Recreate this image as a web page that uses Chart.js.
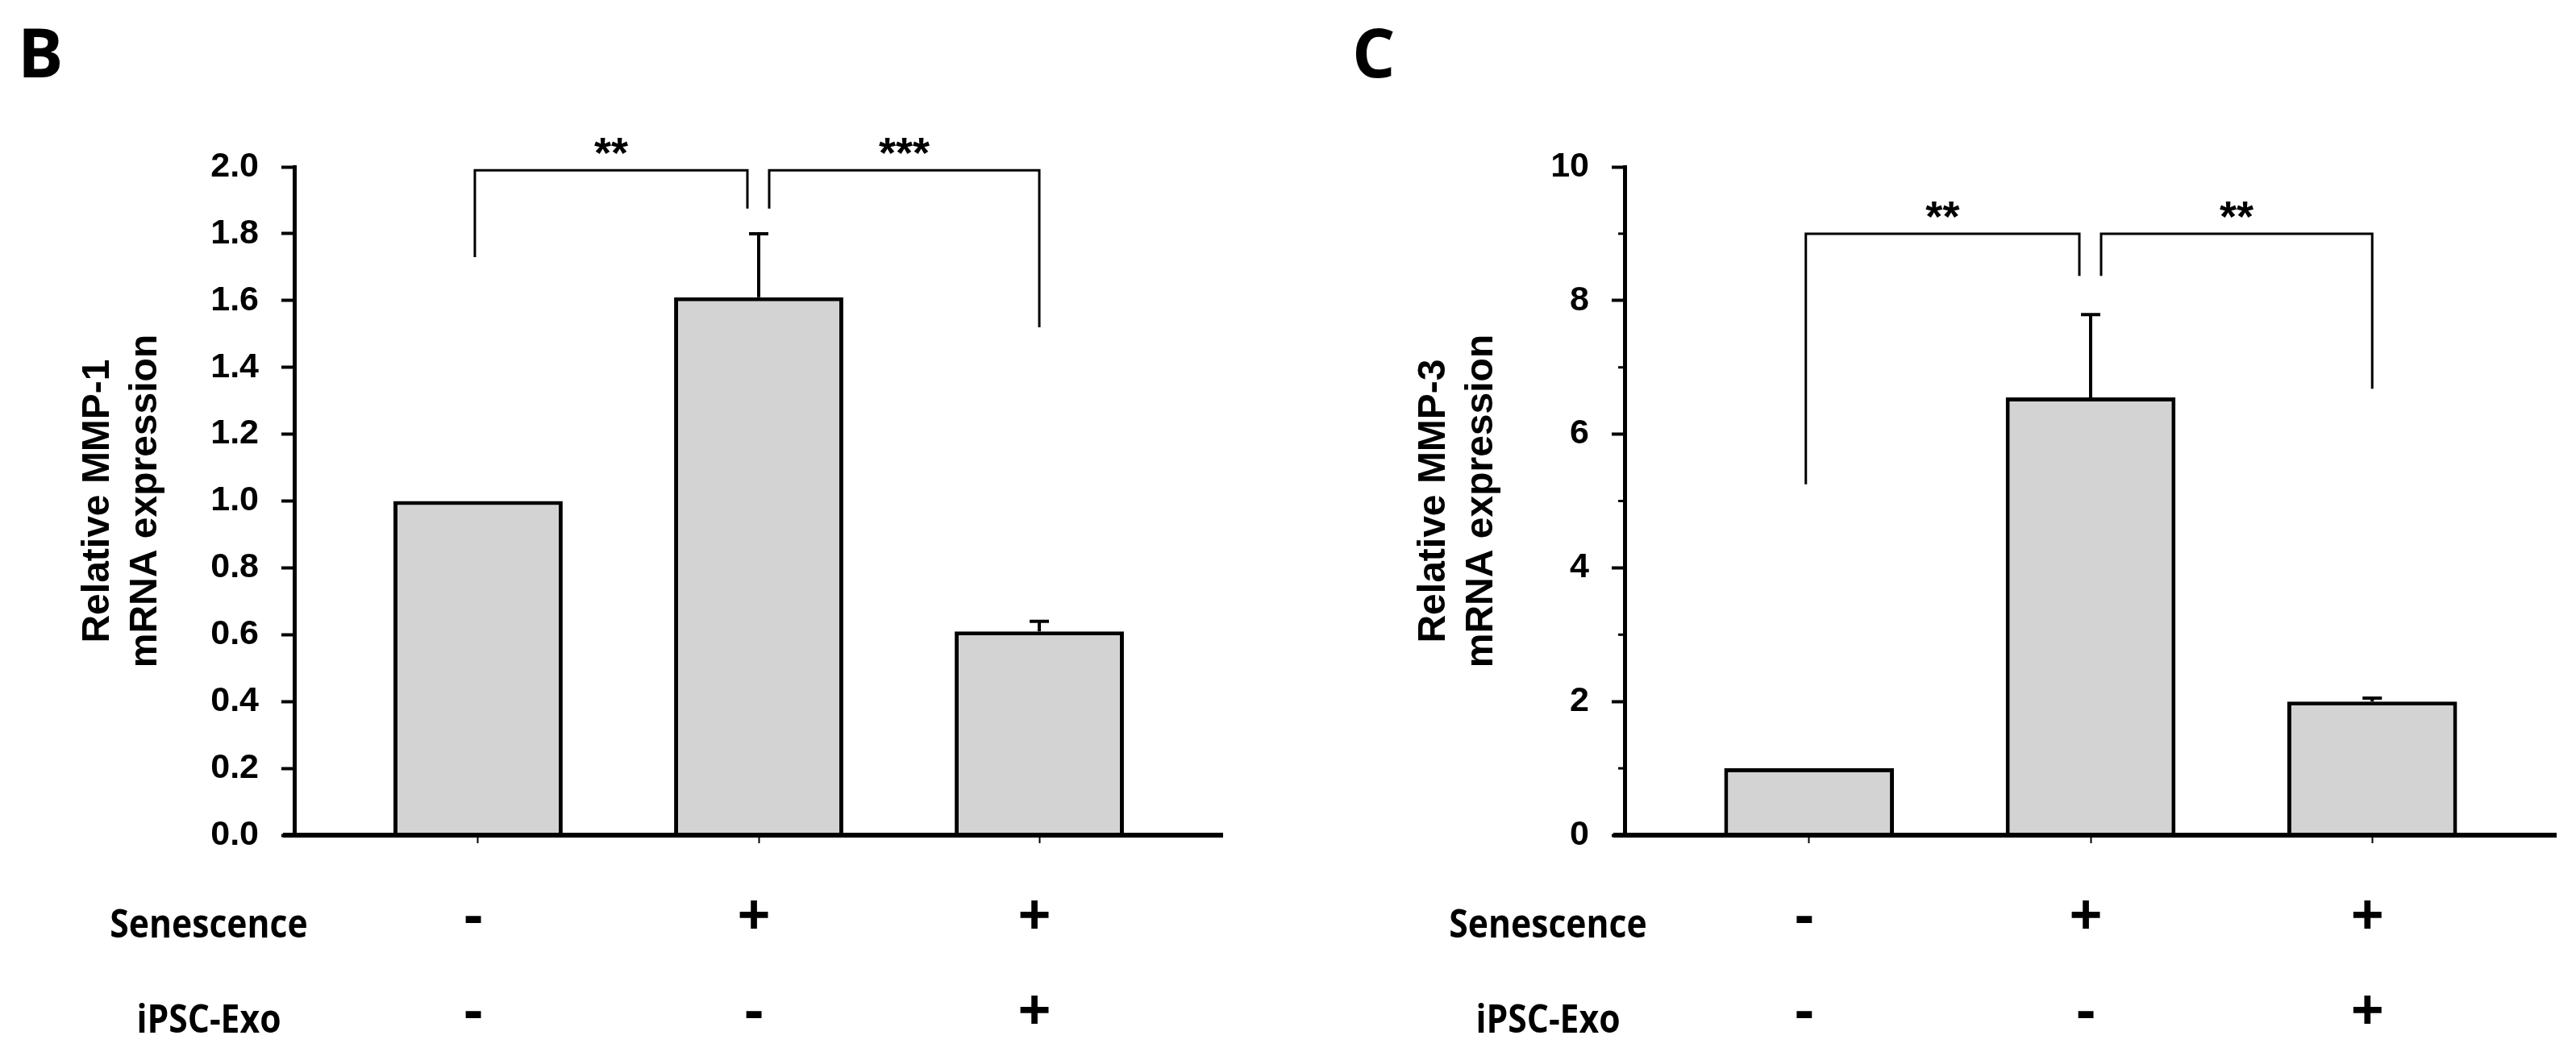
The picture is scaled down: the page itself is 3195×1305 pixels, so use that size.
<!DOCTYPE html>
<html>
<head>
<meta charset="utf-8">
<script src="https://cdn.jsdelivr.net/npm/chart.js@4.4.1/dist/chart.umd.min.js"></script>
<style>
  html, body { margin: 0; padding: 0; background: #fff; }
  body { width: 3195px; height: 1305px; position: relative; overflow: hidden; }
  .panel { position: absolute; top: 0; height: 1305px; }
  #panelB { left: 0; width: 1650px; }
  #panelC { left: 1650px; width: 1545px; }
</style>
</head>
<body>
<div class="panel" id="panelB"><canvas id="chartB"></canvas></div>
<div class="panel" id="panelC"><canvas id="chartC"></canvas></div>
<script>
// treatment table under the x axis
const groups = ["ctrl", "sen", "sen+exo"];
const senescence = ["-", "+", "+"];
const ipscExo = ["-", "-", "+"];
const rowLabels = ["Senescence", "iPSC-Exo"];

// panel B - MMP-1
const mmp1Mean = [1.0, 1.61, 0.61];
const mmp1ErrTop = [1.0, 1.80, 0.64];
const mmp1Ticks = [0, 0.2, 0.4, 0.6, 0.8, 1.0, 1.2, 1.4, 1.6, 1.8, 2.0];
// [from, to, stars, bracket top, left leg end, right leg end]
const mmp1Brackets = [
  [0, 1, "**", 1.99, 1.73, 1.875],
  [1, 2, "***", 1.99, 1.875, 1.52]
];

// panel C - MMP-3
const mmp3Mean = [1.0, 6.55, 2.0];
const mmp3ErrTop = [1.0, 7.79, 2.05];
const mmp3Ticks = [0, 2, 4, 6, 8, 10];
const mmp3MinorTicks = [1, 3, 5, 7, 9];
const mmp3Brackets = [
  [0, 1, "**", 9.0, 5.25, 8.37],
  [1, 2, "**", 9.0, 8.37, 6.68]
];

const panelDeco = {
  id: 'panelDeco',
  afterDatasetsDraw(chart, args, opts) {
    const ctx = chart.ctx;
    const xs = chart.scales.x, ys = chart.scales.y, area = chart.chartArea;
    ctx.save();
    ctx.strokeStyle = '#000';
    ctx.fillStyle = '#000';

    // x axis line, it sticks out a bit left of the y axis
    const y0 = ys.getPixelForValue(0);
    ctx.lineWidth = 6;
    ctx.beginPath();
    ctx.moveTo(area.left - 14, y0);
    ctx.lineTo(area.right, y0);
    ctx.stroke();

    // minor ticks (only panel C)
    ctx.lineWidth = 3;
    (opts.minor || []).forEach(v => {
      const y = ys.getPixelForValue(v);
      ctx.beginPath();
      ctx.moveTo(area.left - 8, y);
      ctx.lineTo(area.left, y);
      ctx.stroke();
    });

    // upper error bars
    const meta = chart.getDatasetMeta(0);
    ctx.lineWidth = 4;
    opts.errTop.forEach((top, i) => {
      if (top <= opts.mean[i]) return;
      const bar = meta.data[i];
      const yt = ys.getPixelForValue(top);
      ctx.beginPath();
      ctx.moveTo(bar.x, bar.y);
      ctx.lineTo(bar.x, yt);
      ctx.moveTo(bar.x - 12, yt);
      ctx.lineTo(bar.x + 12, yt);
      ctx.stroke();
    });

    // significance brackets
    const counts = {};
    opts.brackets.forEach(b => { counts[b[0]] = (counts[b[0]] || 0) + 1; counts[b[1]] = (counts[b[1]] || 0) + 1; });
    ctx.lineWidth = 3;
    ctx.font = 'bold 54px "Liberation Sans", Arial, sans-serif';
    ctx.textAlign = 'center';
    ctx.textBaseline = 'alphabetic';
    opts.brackets.forEach(([a, b, stars, top, legA, legB]) => {
      const xa = xs.getPixelForValue(a) + (counts[a] > 1 ? 13 : -4);
      const xb = xs.getPixelForValue(b) - (counts[b] > 1 ? 14 : 0);
      const yt = ys.getPixelForValue(top);
      ctx.beginPath();
      ctx.moveTo(xa, ys.getPixelForValue(legA));
      ctx.lineTo(xa, yt);
      ctx.lineTo(xb, yt);
      ctx.lineTo(xb, ys.getPixelForValue(legB));
      ctx.stroke();
      ctx.fillText(stars, (xa + xb) / 2, yt - 3);
    });
    ctx.restore();
  },
  afterDraw(chart, args, opts) {
    const ctx = chart.ctx;
    const area = chart.chartArea;
    ctx.save();
    ctx.fillStyle = '#000';
    // panel letter
    ctx.font = 'bold 84px "Open Sans", sans-serif';
    ctx.textAlign = 'left';
    ctx.textBaseline = 'alphabetic';
    ctx.fillText(opts.letter, opts.letterX, 96);
    // row labels of the table
    ctx.font = 'bold 49px "Open Sans", sans-serif';
    ctx.textAlign = 'center';
    rowLabels.forEach((t, i) => {
      ctx.save();
      ctx.translate(area.left - opts.rowOffset, area.bottom + 127 + i * 118);
      ctx.scale(0.87, 1);
      ctx.fillText(t, 0, 0);
      ctx.restore();
    });
    ctx.restore();
  }
};

function makePanel(id, p) {
  return new Chart(document.getElementById(id), {
    type: 'bar',
    data: {
      datasets: [{
        data: p.mean.map((v, i) => ({ x: i, y: v })),
        backgroundColor: '#d3d3d3',
        borderColor: '#000',
        borderWidth: 5,
        borderSkipped: 'bottom',
        categoryPercentage: 1,
        barPercentage: 0.603
      }]
    },
    options: {
      responsive: true,
      maintainAspectRatio: false,
      animation: false,
      layout: { padding: { left: 0, top: 207, right: p.padRight, bottom: 0 } },
      plugins: {
        legend: { display: false },
        tooltip: { enabled: false },
        panelDeco: {
          letter: p.letter, letterX: p.letterX, rowOffset: p.rowOffset,
          mean: p.mean, errTop: p.errTop, brackets: p.brackets, minor: p.minor
        }
      },
      scales: {
        x: {
          type: 'linear',
          min: -0.655,
          max: 2.655,
          offset: false,
          afterBuildTicks: s => { s.ticks = groups.map((g, i) => ({ value: i })); },
          afterFit: s => { s.height = 269; },
          grid: { drawOnChartArea: false, drawTicks: true, tickLength: 10, tickWidth: 2, tickColor: '#000', offset: false },
          border: { display: false },
          ticks: {
            callback: v => [senescence[v], ipscExo[v]],
            color: '#000',
            font: { family: '"Open Sans", sans-serif', size: 72, weight: 'bold', lineHeight: '118px' },
            padding: 34,
            labelOffset: -6,
            maxRotation: 0,
            autoSkip: false
          }
        },
        y: {
          min: 0,
          max: p.ticks[p.ticks.length - 1],
          afterBuildTicks: s => { s.ticks = p.ticks.map(v => ({ value: v })); },
          afterFit: s => { s.width = 365; },
          grid: { drawOnChartArea: false, drawTicks: true, tickLength: 16, tickWidth: 4, tickColor: '#000' },
          border: { display: true, color: '#000', width: 5 },
          ticks: {
            callback: v => p.fmt(v),
            color: '#000',
            font: { family: '"Liberation Sans", Arial, sans-serif', size: 43, weight: 'bold' },
            padding: 28
          },
          title: {
            display: true,
            text: p.title,
            color: '#000',
            font: { family: '"Liberation Sans", Arial, sans-serif', size: 48, weight: 'bold', lineHeight: '59px' },
            padding: { top: p.titlePad, bottom: 0 }
          }
        }
      }
    },
    plugins: [panelDeco]
  });
}

makePanel('chartB', {
  letter: 'B', letterX: 22, rowOffset: 106, padRight: 133, titlePad: 92,
  mean: mmp1Mean, errTop: mmp1ErrTop, ticks: mmp1Ticks, brackets: mmp1Brackets,
  fmt: v => v.toFixed(1),
  title: ['Relative MMP-1', 'mRNA expression']
});

makePanel('chartC', {
  letter: 'C', letterX: 27, rowOffset: 95, padRight: 24, titlePad: 99,
  mean: mmp3Mean, errTop: mmp3ErrTop, ticks: mmp3Ticks, brackets: mmp3Brackets, minor: mmp3MinorTicks,
  fmt: v => String(v),
  title: ['Relative MMP-3', 'mRNA expression']
});
</script>
</body>
</html>
